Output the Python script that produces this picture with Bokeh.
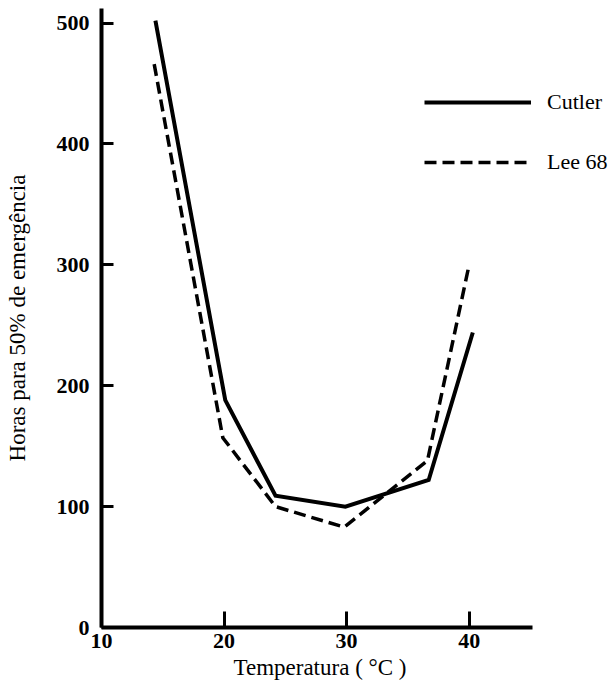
from bokeh.plotting import figure
from bokeh.models import Range1d, FixedTicker, Legend, LegendItem, Title
from bokeh.embed import file_html
from bokeh.resources import INLINE

# Data
temp_ticks = [10, 20, 30, 40]
hour_ticks = [0, 100, 200, 300, 400, 500]

cutler_temp = [14.4, 20.1, 24.2, 29.9, 36.7, 40.3]
cutler_hours = [502, 188, 109, 100, 122, 244]

lee_temp = [14.3, 19.9, 24.2, 29.8, 36.6, 40.0]
lee_hours = [466, 157, 100, 83, 138, 300]

series_names = ["Cutler", "Lee 68"]
x_title = "Temperatura ( °C )"
y_title = "Horas para 50% de emergência"

FONT = "Liberation Serif"

p = figure(width=612, height=689, output_backend="svg", toolbar_location=None,
           x_range=Range1d(10, 51.7), y_range=Range1d(0, 512),
           min_border_left=101, min_border_right=0, min_border_top=8, min_border_bottom=62)
p.outline_line_color = None
p.xgrid.visible = False
p.ygrid.visible = False

r1 = p.line(cutler_temp, cutler_hours, line_color="black", line_width=4, line_join="miter")
r2 = p.line(lee_temp, lee_hours, line_color="black", line_width=3.5, line_dash="12 6", line_join="miter")

# axes
p.xaxis.ticker = FixedTicker(ticks=temp_ticks)
p.yaxis.ticker = FixedTicker(ticks=hour_ticks)
p.xaxis.bounds = (10, 45.2)
for ax in (p.xaxis[0], p.yaxis[0]):
    ax.axis_line_width = 4
    ax.axis_line_color = "black"
    ax.major_tick_line_width = 3
    ax.major_tick_line_color = "black"
    ax.major_tick_out = 0
    ax.minor_tick_line_color = None
    ax.major_label_text_font = FONT
    ax.major_label_text_font_style = "bold"
    ax.major_label_text_font_size = "22px"
    ax.major_label_text_color = "black"
    ax.axis_label_text_font = FONT
    ax.axis_label_text_font_style = "normal"
    ax.axis_label_text_font_size = "23px"
    ax.axis_label_text_color = "black"

p.xaxis.major_tick_in = 16
p.yaxis.major_tick_in = 12
p.xaxis.major_label_standoff = 6
p.yaxis.major_label_standoff = 12
p.yaxis.axis_label_standoff = 24
p.yaxis.axis_label = y_title

# x-axis title placed under the axis, aligned like the reference
p.add_layout(Title(text=x_title, align="left", offset=132, standoff=4,
                   text_font=FONT, text_font_style="normal",
                   text_font_size="23px", text_color="black"), "below")

legend = Legend(items=[LegendItem(label=series_names[0], renderers=[r1]),
                       LegendItem(label=series_names[1], renderers=[r2])],
                location=(323, 452), orientation="vertical",
                padding=0, margin=0, spacing=34,
                glyph_width=107, glyph_height=20, label_height=20,
                label_standoff=16,
                label_text_font=FONT, label_text_font_size="22px",
                label_text_color="black",
                border_line_color=None, background_fill_alpha=0)
p.add_layout(legend)

open("out.html", "w").write(file_html(p, INLINE))
